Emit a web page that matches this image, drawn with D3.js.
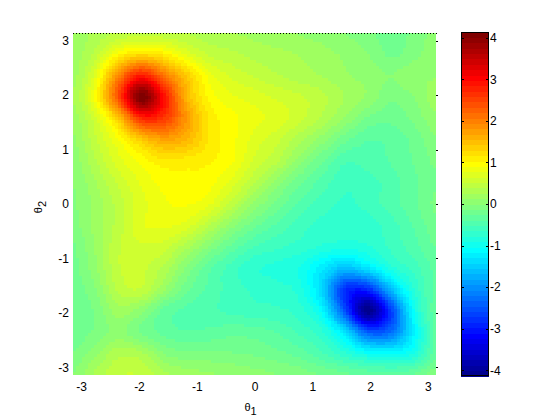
<!DOCTYPE html>
<html><head><meta charset="utf-8">
<script src="https://cdn.jsdelivr.net/npm/d3@7"></script>
<style>
body{margin:0;background:#fff}
svg{display:block}
text{font-family:"Liberation Sans",Arial,Helvetica,sans-serif;font-size:12px;fill:#000}
</style>
</head><body>
<svg id="chart" width="560" height="420"></svg>
<script>
// grid coordinates (theta1 across, theta2 down from +pi to -pi)
const theta1 = [-3.1416,-2.7489,-2.3562,-1.9635,-1.5708,-1.1781,-0.7854,-0.3927,0,0.3927,0.7854,1.1781,1.5708,1.9635,2.3562,2.7489,3.1416];
const theta2 = [3.1416,2.7489,2.3562,1.9635,1.5708,1.1781,0.7854,0.3927,0,-0.3927,-0.7854,-1.1781,-1.5708,-1.9635,-2.3562,-2.7489,-3.1416];
// field values, one row per theta2
const values = [
 [0.15,0.30,0.40,0.45,0.42,0.38,0.32,0.27,0.22,0.17,0.12,0.08,0.00,-0.08,-0.20,-0.10,0.05],
 [0.18,0.45,1.00,1.25,1.10,0.75,0.50,0.42,0.35,0.30,0.25,0.18,0.10,0.00,-0.15,-0.05,0.10],
 [0.20,0.75,1.95,2.85,2.10,1.40,0.85,0.62,0.50,0.40,0.32,0.25,0.15,0.08,0.00,0.10,0.12],
 [0.25,0.95,2.40,4.10,2.95,1.60,1.00,0.80,0.72,0.62,0.54,0.42,0.25,0.10,-0.10,0.00,0.20],
 [0.18,0.62,1.40,2.70,2.60,1.80,1.15,0.95,0.82,0.72,0.55,0.35,0.10,-0.15,-0.22,-0.10,0.10],
 [0.10,0.50,0.90,1.40,1.70,1.55,1.15,0.95,0.72,0.55,0.30,0.05,-0.22,-0.38,-0.35,-0.22,-0.02],
 [0.05,0.38,0.72,0.95,1.12,1.10,1.05,0.92,0.62,0.40,0.05,-0.25,-0.50,-0.45,-0.38,-0.25,-0.10],
 [0.00,0.25,0.55,0.80,0.95,1.00,0.95,0.72,0.40,0.05,-0.22,-0.45,-0.62,-0.58,-0.45,-0.30,-0.15],
 [-0.02,0.18,0.45,0.72,0.88,0.92,0.80,0.45,0.10,-0.18,-0.42,-0.58,-0.67,-0.60,-0.45,-0.30,-0.10],
 [-0.05,0.18,0.45,0.75,0.80,0.72,0.40,0.05,-0.22,-0.42,-0.58,-0.70,-0.75,-0.72,-0.58,-0.38,-0.18],
 [-0.15,0.15,0.50,0.62,0.58,0.30,-0.02,-0.30,-0.52,-0.62,-0.70,-0.80,-0.85,-0.80,-0.62,-0.45,-0.25],
 [-0.18,0.10,0.50,0.55,0.35,-0.02,-0.35,-0.58,-0.75,-0.82,-0.92,-1.25,-1.60,-1.30,-0.85,-0.60,-0.35],
 [-0.22,0.00,0.42,0.50,0.15,-0.22,-0.42,-0.58,-0.67,-0.72,-0.85,-1.45,-2.79,-2.85,-1.64,-0.80,-0.35],
 [-0.25,-0.10,0.20,0.05,-0.30,-0.42,-0.48,-0.55,-0.60,-0.62,-0.72,-1.15,-2.55,-4.10,-2.70,-1.05,-0.30],
 [-0.22,-0.10,0.05,-0.15,-0.30,-0.38,-0.35,-0.30,-0.32,-0.40,-0.55,-0.75,-1.35,-2.42,-2.27,-1.20,-0.35],
 [-0.12,0.10,0.35,0.30,0.00,-0.10,-0.10,-0.12,-0.15,-0.22,-0.32,-0.50,-0.75,-1.00,-1.05,-0.90,-0.30],
 [0.00,0.30,0.50,0.50,0.30,0.20,0.15,0.10,0.05,0.00,-0.05,-0.15,-0.22,-0.30,-0.35,-0.25,-0.05]
];
const axisTicks = [-3,-2,-1,0,1,2,3];
const colorTicks = [-4,-3,-2,-1,0,1,2,3,4];
const colorRange = [-4.14, 4.14];

const svg = d3.select('#chart');
const plot = {left:73, right:436, top:33, bottom:375};
const x = d3.scaleLinear().domain([-Math.PI, Math.PI]).range([plot.left, plot.right]);
const y = d3.scaleLinear().domain([-Math.PI, Math.PI]).range([plot.bottom, plot.top]);
const gi = d3.scaleLinear().domain(theta1).range(d3.range(theta1.length));
const gj = d3.scaleLinear().domain(theta2).range(d3.range(theta2.length));

// MATLAB jet(64)
function jet(m){
  const n = Math.ceil(m/4);
  const u = [];
  for(let k=1;k<=n;k++) u.push(k/n);
  for(let k=0;k<n-1;k++) u.push(1);
  for(let k=n;k>=1;k--) u.push(k/n);
  const g0 = Math.ceil(n/2) - (m%4===1?1:0);
  const c = Array.from({length:m}, ()=>[0,0,0]);
  u.forEach((val,k)=>{
    const g = g0+k+1, r = g+n, b = g-n;
    if(r>=1&&r<=m) c[r-1][0]=val;
    if(g>=1&&g<=m) c[g-1][1]=val;
    if(b>=1&&b<=m) c[b-1][2]=val;
  });
  return c.map(v=>d3.rgb(Math.round(v[0]*255),Math.round(v[1]*255),Math.round(v[2]*255)).formatHex());
}
const cmap = jet(64);
const colorIndex = d3.scaleQuantize().domain(colorRange).range(d3.range(64));
function colorOf(v){
  if(v<=colorRange[0]) return cmap[0];
  if(v>=colorRange[1]) return cmap[63];
  return cmap[colorIndex(v)];
}

const nI = theta1.length, nJ = theta2.length;
function at(i,j){ i=Math.max(0,Math.min(nI-1,i)); j=Math.max(0,Math.min(nJ-1,j)); return values[j][i]; }
function cr(p0,p1,p2,p3,t){
  return 0.5*(2*p1 + (-p0+p2)*t + (2*p0-5*p1+4*p2-p3)*t*t + (-p0+3*p1-3*p2+p3)*t*t*t);
}
function field(a,b){
  const fx = gi(a), fy = gj(b);
  const i = Math.min(nI-2, Math.floor(fx)), j = Math.min(nJ-2, Math.floor(fy));
  const tx = fx-i, ty = fy-j;
  const r = [];
  for(let m=-1;m<=2;m++) r.push(cr(at(i-1,j+m),at(i,j+m),at(i+1,j+m),at(i+2,j+m),tx));
  return cr(r[0],r[1],r[2],r[3],ty);
}

// cells
const cell = 3;
const cells = [];
for(let py=plot.top; py<plot.bottom; py+=cell){
  for(let px=plot.left; px<plot.right; px+=cell){
    const w = Math.min(cell, plot.right-px), h = Math.min(cell, plot.bottom-py);
    const a = x.invert(px+w/2), b = y.invert(py+h/2);
    cells.push({a0:x.invert(px), a1:x.invert(px+w), b0:y.invert(py), b1:y.invert(py+h), v:field(a,b)});
  }
}
svg.append('g').attr('shape-rendering','crispEdges')
  .selectAll('rect').data(cells).join('rect')
  .attr('x', d=>x(d.a0)).attr('y', d=>y(d.b0))
  .attr('width', d=>x(d.a1)-x(d.a0)).attr('height', d=>y(d.b1)-y(d.b0))
  .attr('fill', d=>colorOf(d.v));

// axes
const fmt = d => String(d);
const ax = svg.append('g').attr('transform',`translate(0,${plot.bottom})`)
  .call(d3.axisBottom(x).tickValues(axisTicks).tickSize(0).tickPadding(7).tickFormat(fmt));
ax.select('.domain').remove();
const ay = svg.append('g').attr('transform',`translate(${plot.left},0)`)
  .call(d3.axisLeft(y).tickValues(axisTicks).tickSize(0).tickPadding(4).tickFormat(fmt));
ay.select('.domain').remove();
svg.selectAll('.tick text').style('font-family','"Liberation Sans",Arial,sans-serif').style('font-size','12px');
// right-edge tick stubs
svg.append('g').selectAll('line').data(axisTicks).join('line')
  .attr('x1', plot.right).attr('x2', plot.right+2)
  .attr('y1', d=>Math.round(y(d))+0.5).attr('y2', d=>Math.round(y(d))+0.5)
  .attr('stroke','#000').attr('stroke-width',1);
// dotted top border
svg.append('line').attr('x1',plot.left).attr('x2',plot.right+1)
  .attr('y1',plot.top+0.5).attr('y2',plot.top+0.5)
  .attr('stroke','#000').attr('stroke-width',1).attr('stroke-dasharray','1,2');

// axis labels
const xl = svg.append('text').attr('x', 250.5).attr('y', 410.5).attr('text-anchor','middle').style('font-size','11px');
xl.append('tspan').text('θ');
xl.append('tspan').attr('dy', 4.5).text('1');
const yl = svg.append('text').attr('transform','translate(41.5,207) rotate(-90)').attr('text-anchor','middle').style('font-size','11px');
yl.append('tspan').text('θ');
yl.append('tspan').attr('dy', 4.5).text('2');

// colorbar
const cb = {left:461, right:489, top:32, bottom:376};
const cy = d3.scaleLinear().domain(colorRange).range([cb.bottom, cb.top]);
const step = (colorRange[1]-colorRange[0])/64;
svg.append('g').attr('shape-rendering','crispEdges')
  .selectAll('rect').data(cmap).join('rect')
  .attr('x', cb.left).attr('width', cb.right-cb.left)
  .attr('y', (d,i)=>cy(colorRange[0]+(i+1)*step))
  .attr('height', (d,i)=>cy(colorRange[0]+i*step)-cy(colorRange[0]+(i+1)*step)+0.5)
  .attr('fill', d=>d);
svg.append('rect').attr('x',cb.left+0.5).attr('y',cb.top+0.5)
  .attr('width',cb.right-cb.left-1).attr('height',cb.bottom-cb.top-1)
  .attr('fill','none').attr('stroke','#000');
const cbt = svg.append('g');
cbt.selectAll('line.l').data(colorTicks).join('line').attr('class','l')
  .attr('x1',cb.left).attr('x2',cb.left+3).attr('y1',d=>Math.round(cy(d))+0.5).attr('y2',d=>Math.round(cy(d))+0.5)
  .attr('stroke','#000');
cbt.selectAll('line.r').data(colorTicks).join('line').attr('class','r')
  .attr('x1',cb.right-3).attr('x2',cb.right).attr('y1',d=>Math.round(cy(d))+0.5).attr('y2',d=>Math.round(cy(d))+0.5)
  .attr('stroke','#000');
cbt.selectAll('text').data(colorTicks).join('text')
  .attr('x', cb.right+1).attr('y', d=>cy(d)).attr('dy','0.36em')
  .text(fmt);
</script>
</body></html>
